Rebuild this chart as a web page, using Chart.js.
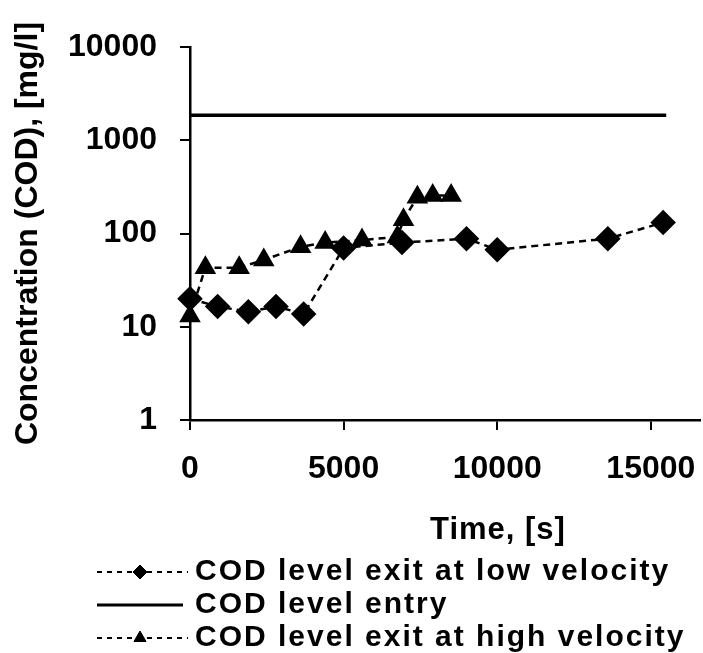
<!DOCTYPE html>
<html>
<head>
<meta charset="utf-8">
<script src="https://cdn.jsdelivr.net/npm/chart.js@4.4.1/dist/chart.umd.min.js"></script>
<style>
  body { margin: 0; background: #fff; }
</style>
</head>
<body>
<canvas id="codChart" width="703" height="653"></canvas>
<script>
// exit COD, low velocity run
const lowTime = [0, 900, 1900, 2800, 3700, 5000, 6900, 9000, 10000, 13600, 15400];
const lowCod = [20, 16.5, 14.5, 16.5, 13.7, 70, 80, 88, 67, 88, 131];
// entry COD
const entryTime = [0, 15500];
const entryCod = [1850, 1850];
// exit COD, high velocity run
const highTime = [0, 500, 1600, 2400, 3600, 4400, 5600, 6750, 6950, 7400, 7900, 8500];
const highCod = [13, 43, 43, 52, 72, 80, 85, 92, 140, 245, 255, 255];

const timeTicks = [0, 5000, 10000, 15000];
const codTicks = [1, 10, 100, 1000, 10000];
const seriesNames = ['COD level exit at low velocity', 'COD level entry', 'COD level exit at high velocity'];

const FONT = '"Liberation Sans", Arial, sans-serif';
const toPoints = (xs, ys) => xs.map((x, i) => ({ x, y: ys[i] }));

// x title and the stacked legend under the plot
const bottomText = {
  id: 'bottomText',
  afterDraw(chart) {
    const ctx = chart.ctx;
    ctx.save();
    ctx.fillStyle = '#000';
    ctx.strokeStyle = '#000';
    ctx.textBaseline = 'middle';
    ctx.textAlign = 'left';
    ctx.font = 'bold 31px ' + FONT;
    ctx.letterSpacing = '1px';
    ctx.fillText('Time, [s]', 430, 530);

    ctx.font = 'bold 30px ' + FONT;
    ctx.letterSpacing = '2px';
    chart.data.datasets.forEach((ds, i) => {
      const y = 572 + i * 33;
      const dashed = ds.borderDash.length > 0;
      ctx.lineWidth = dashed ? 2 : 3;
      ctx.setLineDash(dashed ? [5, 5] : []);
      ctx.beginPath();
      ctx.moveTo(97, y);
      ctx.lineTo(dashed ? 188 : 183, y);
      ctx.stroke();
      ctx.setLineDash([]);
      if (ds.pointRadius > 0) {
        ctx.lineWidth = 1;
        Chart.helpers.drawPoint(ctx, { pointStyle: ds.pointStyle, radius: 7, borderWidth: 1, rotation: 0 }, 140, y);
      }
      ctx.fillText(ds.label, 195, y);
    });
    ctx.restore();
  }
};

const tickFont = { family: FONT, size: 32, weight: 'bold' };
const axisGrid = { drawOnChartArea: false, color: '#000', lineWidth: 2, tickLength: 10 };
const axisBorder = { color: '#000', width: 2.5 };

new Chart(document.getElementById('codChart'), {
  type: 'line',
  data: {
    datasets: [
      {
        label: seriesNames[0],
        data: toPoints(lowTime, lowCod),
        borderColor: '#000',
        backgroundColor: '#000',
        borderWidth: 2.5,
        borderDash: [7, 5],
        pointStyle: 'rectRot',
        pointRadius: 11,
        pointBackgroundColor: '#000',
        clip: false
      },
      {
        label: seriesNames[1],
        data: toPoints(entryTime, entryCod),
        borderColor: '#000',
        borderWidth: 3.5,
        borderDash: [],
        pointRadius: 0,
        clip: false
      },
      {
        label: seriesNames[2],
        data: toPoints(highTime, highCod),
        borderColor: '#000',
        backgroundColor: '#000',
        borderWidth: 2.5,
        borderDash: [7, 5],
        pointStyle: 'triangle',
        pointRadius: 10,
        pointBackgroundColor: '#000',
        clip: false
      }
    ]
  },
  options: {
    responsive: false,
    animation: false,
    layout: { autoPadding: false, padding: { top: 47, right: 3, left: 0, bottom: 0 } },
    plugins: {
      legend: { display: false },
      tooltip: { enabled: false }
    },
    scales: {
      x: {
        type: 'linear',
        min: 0,
        max: 16600,
        afterBuildTicks: s => { s.ticks = timeTicks.map(v => ({ value: v })); },
        afterFit: s => {
          s.height = 233;
          s.paddingLeft = 0;
          s.paddingRight = 0;
        },
        ticks: { color: '#000', font: tickFont, padding: 20, maxRotation: 0, callback: v => String(v) },
        grid: axisGrid,
        border: axisBorder
      },
      y: {
        type: 'logarithmic',
        min: 1,
        max: 10000,
        afterBuildTicks: s => { s.ticks = codTicks.map(v => ({ value: v })); },
        afterFit: s => { s.width = 190; },
        ticks: { color: '#000', font: tickFont, padding: 23, callback: v => String(v) },
        grid: axisGrid,
        border: axisBorder,
        title: {
          display: true,
          text: 'Concentration (COD), [mg/l]',
          color: '#000',
          font: { family: FONT, size: 32, weight: 'bold' },
          padding: { top: 9, bottom: 0 }
        }
      }
    }
  },
  plugins: [bottomText]
});
</script>
</body>
</html>
